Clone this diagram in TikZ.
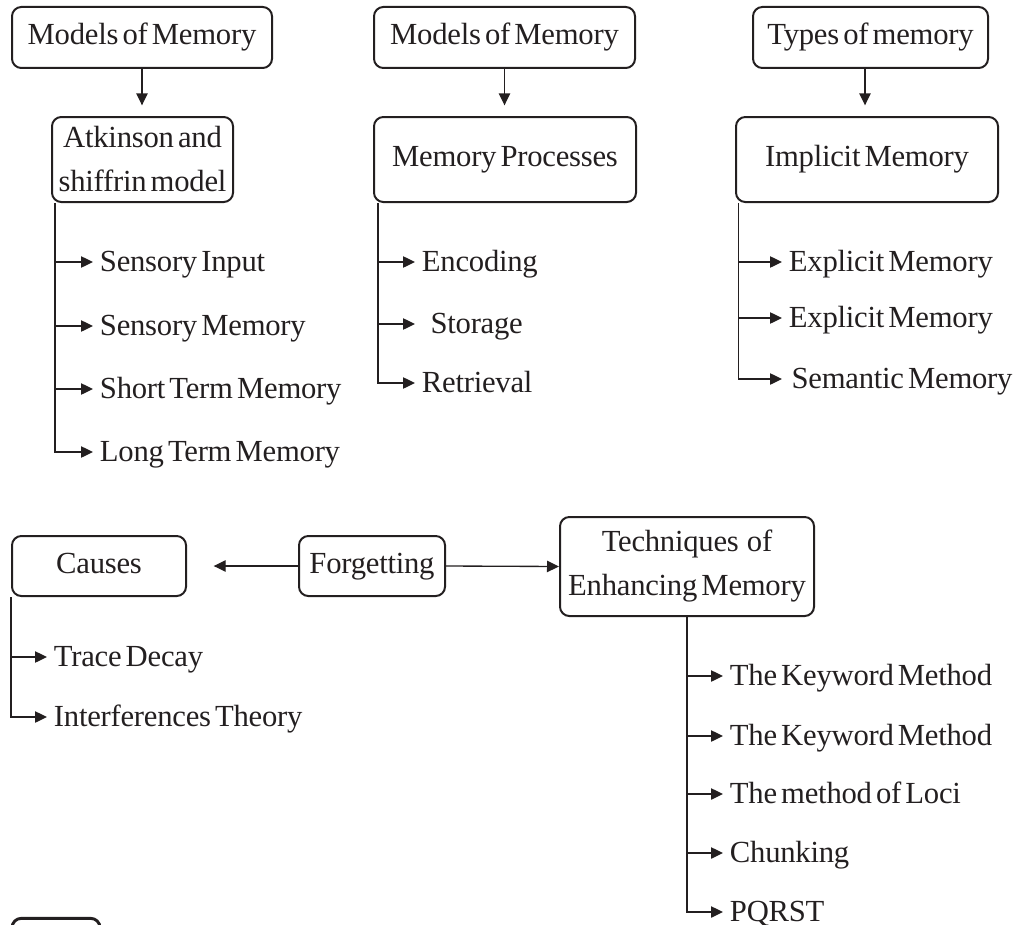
\documentclass[tikz,border=0pt]{standalone}
\usepackage{fontspec}
\setmainfont{Liberation Serif}[WordSpace=0.55, LetterSpace=-0.8]
\usetikzlibrary{arrows.meta}
\definecolor{ink}{HTML}{231F20}
\tikzset{
  box/.style={draw=ink, text=ink, line width=1.5pt, rounded corners=7pt, align=center, inner sep=0pt,
    font=\fontsize{23}{33}\selectfont},
  onebox/.style={box, text height=15.5pt, text depth=4.5pt},
  item/.style={text=ink, anchor=west, inner xsep=5pt, inner ysep=0pt, text height=18pt, text depth=4.5pt,
    font=\fontsize{23}{27}\selectfont},
  link/.style={draw=ink, line width=1pt, -{Triangle[length=9pt,width=8.5pt]}},
}
\begin{document}
\begin{tikzpicture}[x=0.75pt,y=0.75pt,yscale=-1,xscale=1]
    \useasboundingbox (0,0) rectangle (1013,924);
    % Top boxes
    \node[onebox, minimum width=195pt, minimum height=45.75pt] (models1) at (142,37.5) {Models of Memory};
    \node[onebox, minimum width=195.75pt, minimum height=45.75pt] (models2) at (504.5,37.5) {Models of Memory};
    \node[onebox, minimum width=176.25pt, minimum height=45.75pt] (types) at (870.5,37.5) {Types of memory};
    % Second row boxes
    \node[box, minimum width=135.75pt, minimum height=63.75pt] (atkinson) at (142.5,159.5) {Atkinson and\\shiffrin model};
    \node[onebox, minimum width=196.5pt, minimum height=63.75pt] (processes) at (505,159.5) {Memory Processes};
    \node[onebox, minimum width=196.5pt, minimum height=63.75pt] (implicit) at (867,159.5) {Implicit Memory};
    \draw[link, shorten >=8pt] (models1.south) -- (models1.south |- atkinson.north);
    \draw[link, shorten >=8pt] (models2.south) -- (models2.south |- processes.north);
    \draw[link, shorten >=8pt] ([xshift=-1.5pt]types.south -| implicit.north) -- ([xshift=-1.5pt]implicit.north);
    % Atkinson items
    \node[item] (sensin) at (93,262) {Sensory Input};
    \node[item] (sensmem) at (93,326) {Sensory Memory};
    \node[item] (shortmem) at (93,389) {Short Term Memory};
    \node[item] (longmem) at (93,452) {Long Term Memory};
    \foreach \n in {sensin,sensmem,shortmem,longmem}
      \draw[link] ([xshift=3pt]atkinson.south west) |- (\n.west);
    % Process items
    \node[item] (encoding) at (415,262) {Encoding};
    \node[item] (storage) at (415,324) {\hspace{6.5pt}Storage};
    \node[item] (retrieval) at (415,383) {Retrieval};
    \foreach \n in {encoding,storage,retrieval}
      \draw[link] ([xshift=3.75pt]processes.south west) |- (\n.west);
    % Type items
    \node[item] (explicit1) at (782,262) {Explicit Memory};
    \node[item] (explicit2) at (782,318) {Explicit Memory};
    \node[item] (semantic) at (782,379) {\hspace{2pt}Semantic Memory};
    \foreach \n in {explicit1,explicit2,semantic}
      \draw[link] ([xshift=2.5pt]implicit.south west) |- (\n.west);
    % Forgetting row
    \node[onebox, minimum width=130.5pt, minimum height=45pt] (causes) at (99,566) {Causes};
    \node[onebox, minimum width=109.5pt, minimum height=45pt] (forgetting) at (372,566) {Forgetting};
    \node[box, minimum width=190.5pt, minimum height=74.25pt] (techniques) at (687,566.5) {Techniques \ of\\Enhancing Memory};
    \draw[link, shorten >=20pt] (forgetting.west) -- (causes.east);
    \draw[link] (forgetting.east) -- (techniques.west);
    % Cause items
    \node[item] (decay) at (47,657) {Trace Decay};
    \node[item] (interference) at (47,717) {Interferences Theory};
    \foreach \n in {decay,interference}
      \draw[link] (causes.south west) |- (\n.west);
    % Technique items
    \node[item] (keyword1) at (723,676) {The Keyword Method};
    \node[item] (keyword2) at (723,736) {The Keyword Method};
    \node[item] (loci) at (723,794) {The method of Loci};
    \node[item] (chunking) at (723,853) {Chunking};
    \node[item] (pqrst) at (723,912) {PQRST};
    \foreach \n in {keyword1,keyword2,loci,chunking,pqrst}
      \draw[link] (techniques.south) |- (\n.west);
    % cut-off box at the bottom
    \node[draw=ink, line width=2.2pt, rounded corners=7pt, minimum width=66pt, minimum height=40pt] (tag) at (56,945) {};
\end{tikzpicture}
\end{document}
